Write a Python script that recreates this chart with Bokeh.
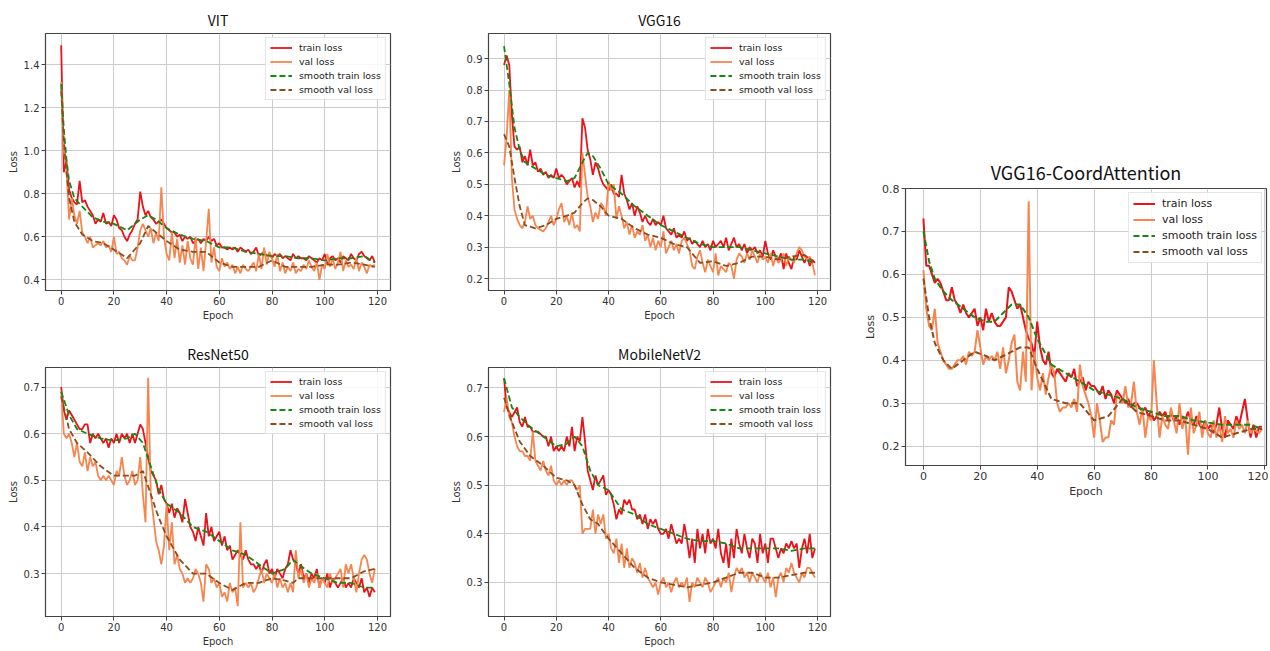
from bokeh.plotting import figure
from bokeh.models import Range1d, FixedTicker, Spacer, PrintfTickFormatter
from bokeh.layouts import row, column
from bokeh.embed import file_html
from bokeh.resources import INLINE

# ---------------- data ----------------
x_ticks = [0, 20, 40, 60, 80, 100, 120]

vit_train = [1.49,0.90,0.95,0.82,0.78,0.76,0.75,0.86,0.76,0.77,
             0.74,0.72,0.70,0.66,0.68,0.67,0.71,0.66,0.67,0.65,
             0.70,0.68,0.64,0.63,0.60,0.58,0.61,0.63,0.66,0.68,
             0.81,0.74,0.70,0.72,0.69,0.68,0.66,0.67,0.68,0.66,
             0.64,0.63,0.62,0.62,0.60,0.61,0.58,0.60,0.59,0.60,
             0.57,0.58,0.59,0.57,0.59,0.58,0.60,0.58,0.59,0.56,
             0.57,0.55,0.55,0.54,0.55,0.54,0.55,0.53,0.55,0.54,
             0.53,0.54,0.52,0.53,0.55,0.51,0.52,0.53,0.51,0.52,
             0.50,0.52,0.51,0.52,0.50,0.51,0.50,0.49,0.52,0.50,
             0.51,0.50,0.50,0.49,0.51,0.50,0.49,0.48,0.50,0.49,
             0.52,0.47,0.50,0.51,0.49,0.50,0.48,0.51,0.50,0.49,
             0.52,0.50,0.49,0.52,0.53,0.51,0.50,0.49,0.51,0.48]
vit_val = [1.32,1.00,0.92,0.68,0.78,0.70,0.66,0.72,0.62,0.60,
           0.57,0.60,0.55,0.56,0.57,0.56,0.58,0.55,0.56,0.53,
           0.60,0.52,0.53,0.50,0.49,0.47,0.51,0.49,0.49,0.55,
           0.63,0.66,0.63,0.60,0.64,0.57,0.62,0.58,0.83,0.60,
           0.52,0.49,0.62,0.50,0.59,0.48,0.56,0.47,0.58,0.50,
           0.47,0.60,0.45,0.55,0.44,0.58,0.73,0.48,0.55,0.46,
           0.44,0.50,0.46,0.48,0.45,0.47,0.43,0.46,0.43,0.47,
           0.45,0.44,0.46,0.48,0.44,0.52,0.45,0.55,0.47,0.53,
           0.50,0.46,0.52,0.44,0.48,0.43,0.46,0.44,0.48,0.43,
           0.45,0.44,0.47,0.45,0.49,0.46,0.44,0.48,0.40,0.47,
           0.45,0.52,0.46,0.50,0.45,0.48,0.53,0.44,0.49,0.46,
           0.47,0.45,0.50,0.44,0.48,0.46,0.43,0.47,0.46,0.47]
vit_s_ep = [0,1,2,3,5,8,12,16,20,25,30,33,36,40,45,50,55,60,65,70,75,80,85,90,95,100,105,110,115,119]
vit_s_train = [1.31,1.10,0.96,0.86,0.78,0.74,0.69,0.67,0.66,0.63,0.68,0.70,0.68,0.64,0.61,
               0.59,0.58,0.55,0.55,0.53,0.52,0.51,0.51,0.50,0.50,0.49,0.50,0.50,0.51,0.48]
vit_s_val = [1.28,1.05,0.90,0.78,0.67,0.61,0.58,0.57,0.54,0.50,0.57,0.65,0.62,0.58,0.54,
             0.53,0.53,0.48,0.46,0.46,0.46,0.49,0.46,0.46,0.46,0.47,0.47,0.48,0.47,0.46]

vgg_train = [0.88,0.91,0.88,0.72,0.62,0.61,0.62,0.57,0.59,0.56,
             0.61,0.56,0.57,0.54,0.55,0.53,0.54,0.52,0.53,0.52,
             0.55,0.52,0.53,0.52,0.50,0.51,0.52,0.49,0.51,0.49,
             0.71,0.68,0.61,0.58,0.53,0.57,0.55,0.52,0.50,0.49,
             0.48,0.50,0.47,0.47,0.46,0.53,0.47,0.45,0.42,0.44,
             0.40,0.43,0.41,0.38,0.40,0.38,0.37,0.39,0.37,0.38,
             0.37,0.40,0.36,0.35,0.34,0.36,0.33,0.34,0.33,0.35,
             0.32,0.33,0.31,0.32,0.31,0.30,0.32,0.30,0.31,0.29,
             0.32,0.30,0.31,0.32,0.30,0.33,0.29,0.31,0.33,0.30,
             0.31,0.29,0.31,0.28,0.30,0.29,0.30,0.28,0.29,0.27,
             0.32,0.28,0.26,0.29,0.27,0.26,0.28,0.23,0.28,0.25,
             0.23,0.27,0.26,0.29,0.27,0.25,0.27,0.24,0.26,0.25]
vgg_val = [0.56,0.65,0.80,0.52,0.42,0.39,0.37,0.36,0.38,0.43,
           0.39,0.40,0.37,0.36,0.355,0.35,0.36,0.38,0.40,0.37,
           0.39,0.42,0.44,0.38,0.40,0.37,0.41,0.36,0.37,0.35,
           0.60,0.53,0.46,0.43,0.38,0.41,0.39,0.44,0.43,0.40,
           0.51,0.48,0.50,0.39,0.43,0.40,0.36,0.38,0.34,0.37,
           0.33,0.35,0.34,0.37,0.32,0.34,0.30,0.33,0.29,0.32,
           0.30,0.35,0.28,0.30,0.32,0.29,0.31,0.28,0.32,0.33,
           0.31,0.29,0.24,0.23,0.27,0.29,0.25,0.22,0.26,0.24,
           0.22,0.28,0.21,0.24,0.23,0.22,0.25,0.24,0.20,0.26,
           0.28,0.27,0.25,0.28,0.26,0.29,0.27,0.25,0.28,0.26,
           0.27,0.25,0.28,0.24,0.27,0.25,0.26,0.28,0.24,0.27,
           0.26,0.25,0.28,0.30,0.29,0.27,0.26,0.27,0.25,0.21]
vgg_s_ep = [0,2,4,6,8,12,16,20,24,27,30,32,34,37,40,45,50,55,60,65,70,75,80,85,90,95,100,105,110,115,119]
vgg_s_train = [0.94,0.82,0.68,0.61,0.57,0.55,0.53,0.52,0.51,0.52,0.57,0.60,0.59,0.55,0.50,0.47,
               0.43,0.40,0.37,0.35,0.33,0.31,0.30,0.30,0.30,0.29,0.28,0.27,0.26,0.26,0.25]
vgg_s_val = [0.66,0.62,0.52,0.43,0.37,0.36,0.37,0.39,0.40,0.41,0.44,0.455,0.45,0.43,0.40,0.39,
             0.36,0.34,0.33,0.31,0.30,0.25,0.255,0.24,0.25,0.27,0.27,0.26,0.27,0.275,0.25]

res_train = [0.70,0.65,0.63,0.65,0.64,0.63,0.62,0.61,0.61,0.62,
             0.62,0.58,0.60,0.59,0.60,0.59,0.58,0.59,0.57,0.59,
             0.58,0.60,0.58,0.60,0.59,0.60,0.58,0.60,0.58,0.60,
             0.62,0.61,0.58,0.55,0.52,0.51,0.50,0.47,0.49,0.46,
             0.45,0.43,0.45,0.42,0.44,0.43,0.41,0.46,0.43,0.40,
             0.39,0.37,0.40,0.38,0.36,0.43,0.38,0.40,0.37,0.38,
             0.39,0.36,0.38,0.35,0.36,0.33,0.34,0.35,0.34,0.33,
             0.35,0.33,0.32,0.32,0.31,0.32,0.30,0.32,0.33,0.30,
             0.31,0.29,0.31,0.30,0.29,0.31,0.32,0.35,0.33,0.32,
             0.30,0.32,0.29,0.30,0.28,0.30,0.29,0.31,0.27,0.29,
             0.28,0.30,0.27,0.29,0.28,0.27,0.28,0.29,0.27,0.28,
             0.27,0.29,0.28,0.27,0.29,0.26,0.27,0.25,0.27,0.26]
res_val = [0.69,0.60,0.59,0.60,0.58,0.55,0.58,0.54,0.53,0.56,
           0.52,0.55,0.53,0.54,0.51,0.50,0.51,0.50,0.51,0.50,
           0.49,0.52,0.51,0.55,0.51,0.49,0.50,0.52,0.49,0.50,
           0.55,0.47,0.41,0.72,0.47,0.42,0.37,0.35,0.32,0.36,
           0.45,0.35,0.41,0.32,0.34,0.31,0.30,0.28,0.29,0.28,
           0.29,0.31,0.30,0.28,0.24,0.32,0.31,0.28,0.29,0.27,
           0.28,0.25,0.26,0.24,0.28,0.26,0.27,0.23,0.41,0.27,
           0.28,0.27,0.28,0.26,0.27,0.29,0.31,0.28,0.30,0.29,
           0.28,0.30,0.27,0.29,0.27,0.28,0.26,0.28,0.26,0.35,
           0.29,0.31,0.28,0.30,0.27,0.29,0.28,0.30,0.27,0.29,
           0.28,0.27,0.30,0.28,0.29,0.30,0.31,0.27,0.32,0.30,
           0.32,0.29,0.26,0.30,0.33,0.34,0.33,0.30,0.28,0.31]
res_s_ep = [0,3,6,10,15,20,25,28,31,34,37,40,45,50,55,60,65,70,75,80,85,88,90,95,100,105,110,115,119]
res_s_train = [0.69,0.64,0.61,0.60,0.59,0.585,0.59,0.60,0.58,0.53,0.48,0.45,0.43,0.40,0.39,
               0.37,0.35,0.34,0.32,0.30,0.31,0.33,0.32,0.30,0.29,0.28,0.28,0.27,0.27]
res_s_val = [0.68,0.61,0.58,0.56,0.53,0.51,0.51,0.51,0.52,0.47,0.42,0.38,0.33,0.30,0.30,
             0.28,0.265,0.28,0.28,0.29,0.285,0.28,0.29,0.29,0.29,0.29,0.29,0.305,0.31]

mob_train = [0.72,0.66,0.65,0.64,0.65,0.66,0.63,0.62,0.64,0.62,
             0.62,0.61,0.61,0.61,0.605,0.60,0.60,0.58,0.60,0.57,
             0.58,0.57,0.58,0.57,0.60,0.58,0.62,0.57,0.60,0.59,
             0.64,0.59,0.53,0.51,0.49,0.52,0.50,0.51,0.52,0.48,
             0.49,0.48,0.46,0.43,0.45,0.44,0.47,0.46,0.47,0.45,
             0.45,0.43,0.44,0.42,0.44,0.41,0.43,0.42,0.43,0.41,
             0.40,0.40,0.41,0.39,0.42,0.40,0.38,0.39,0.38,0.42,
             0.39,0.35,0.39,0.34,0.41,0.37,0.40,0.36,0.41,0.38,
             0.39,0.37,0.41,0.36,0.34,0.38,0.33,0.39,0.35,0.41,
             0.38,0.36,0.40,0.37,0.35,0.39,0.38,0.34,0.40,0.36,
             0.38,0.34,0.39,0.39,0.37,0.35,0.37,0.36,0.38,0.37,
             0.385,0.37,0.38,0.33,0.37,0.39,0.36,0.40,0.35,0.37]
mob_val = [0.65,0.68,0.64,0.63,0.60,0.58,0.57,0.57,0.56,0.56,
           0.55,0.61,0.55,0.54,0.53,0.55,0.53,0.52,0.54,0.51,
           0.50,0.51,0.50,0.51,0.50,0.51,0.51,0.50,0.49,0.50,
           0.40,0.41,0.41,0.41,0.45,0.40,0.44,0.42,0.44,0.39,
           0.40,0.37,0.36,0.39,0.34,0.38,0.33,0.37,0.33,0.35,
           0.34,0.32,0.34,0.31,0.33,0.31,0.30,0.29,0.30,0.275,
           0.30,0.31,0.29,0.30,0.28,0.30,0.31,0.29,0.30,0.29,
           0.31,0.26,0.30,0.29,0.31,0.30,0.29,0.31,0.30,0.28,
           0.29,0.30,0.31,0.29,0.31,0.30,0.32,0.28,0.31,0.33,
           0.32,0.33,0.31,0.32,0.30,0.32,0.31,0.30,0.32,0.31,
           0.30,0.32,0.29,0.31,0.27,0.31,0.32,0.30,0.33,0.32,
           0.34,0.32,0.31,0.30,0.32,0.31,0.33,0.33,0.32,0.31]
mob_s_ep = [0,3,6,10,15,20,24,27,30,33,36,40,45,50,55,60,65,70,75,80,85,90,95,100,105,110,115,119]
mob_s_train = [0.72,0.66,0.64,0.62,0.60,0.58,0.585,0.60,0.58,0.53,0.50,0.49,0.45,0.44,
               0.42,0.41,0.40,0.39,0.385,0.385,0.38,0.37,0.37,0.37,0.37,0.365,0.37,0.37]
mob_s_val = [0.68,0.63,0.59,0.56,0.54,0.515,0.51,0.50,0.46,0.43,0.42,0.39,0.36,0.33,
             0.31,0.30,0.295,0.29,0.295,0.30,0.31,0.32,0.32,0.31,0.31,0.315,0.32,0.32]

ca_train = [0.73,0.62,0.62,0.60,0.58,0.59,0.58,0.56,0.54,0.54,
            0.57,0.54,0.53,0.51,0.53,0.51,0.50,0.51,0.52,0.48,
            0.50,0.47,0.52,0.49,0.51,0.49,0.48,0.48,0.49,0.50,
            0.57,0.56,0.54,0.52,0.53,0.50,0.47,0.45,0.44,0.41,
            0.49,0.43,0.40,0.39,0.42,0.37,0.36,0.38,0.37,0.36,
            0.35,0.37,0.36,0.38,0.34,0.35,0.36,0.33,0.35,0.34,
            0.34,0.33,0.32,0.34,0.31,0.33,0.32,0.30,0.33,0.32,
            0.31,0.30,0.31,0.29,0.30,0.30,0.29,0.28,0.29,0.27,
            0.28,0.26,0.27,0.28,0.27,0.28,0.26,0.28,0.26,0.27,
            0.25,0.27,0.26,0.28,0.26,0.25,0.27,0.25,0.24,0.26,
            0.24,0.25,0.23,0.25,0.29,0.24,0.22,0.26,0.25,0.24,
            0.27,0.25,0.28,0.31,0.26,0.22,0.25,0.22,0.245,0.245]
ca_val = [0.61,0.52,0.48,0.47,0.52,0.44,0.42,0.40,0.39,0.38,
          0.38,0.39,0.40,0.40,0.41,0.39,0.42,0.41,0.42,0.47,
          0.43,0.39,0.41,0.40,0.41,0.40,0.42,0.38,0.43,0.37,
          0.40,0.44,0.46,0.35,0.33,0.42,0.35,0.77,0.33,0.42,
          0.36,0.33,0.37,0.32,0.36,0.39,0.37,0.30,0.28,0.29,
          0.29,0.30,0.29,0.31,0.28,0.39,0.34,0.32,0.30,0.27,
          0.22,0.30,0.26,0.21,0.22,0.22,0.26,0.25,0.32,0.31,
          0.30,0.34,0.29,0.30,0.35,0.28,0.25,0.29,0.22,0.27,
          0.26,0.40,0.30,0.22,0.27,0.25,0.24,0.29,0.26,0.23,
          0.30,0.24,0.27,0.18,0.29,0.23,0.25,0.28,0.22,0.26,
          0.23,0.22,0.26,0.22,0.25,0.21,0.27,0.23,0.24,0.22,
          0.26,0.24,0.25,0.23,0.26,0.23,0.24,0.235,0.23,0.24]
ca_s_ep = [0,2,4,7,10,14,18,22,25,28,31,34,37,40,45,50,55,60,65,70,75,80,85,90,95,100,105,110,115,119]
ca_s_train = [0.70,0.63,0.59,0.56,0.54,0.52,0.50,0.49,0.49,0.51,0.53,0.53,0.50,0.45,0.39,
              0.37,0.35,0.33,0.32,0.31,0.29,0.28,0.27,0.27,0.26,0.255,0.25,0.25,0.25,0.24]
ca_s_val = [0.59,0.50,0.44,0.40,0.38,0.40,0.42,0.41,0.40,0.41,0.42,0.43,0.43,0.38,0.31,
            0.30,0.30,0.26,0.27,0.31,0.28,0.27,0.26,0.26,0.25,0.24,0.22,0.23,0.24,0.24]

# ---------------- styling ----------------
C_TRAIN = "#ec1219"
C_VAL = "#f7854f"
C_STRAIN = "#128a12"
C_SVAL = "#8b4c1e"
TICK_FONT = "DejaVu Sans"
TITLE_FONT = "Noto Sans CJK SC"


def make(title, train, val, s_ep, s_tr, s_val, xr, yr, yticks, w, h,
         bl, br, bt, bb, tsize="14px", fsize="10px", lfsize="9.5px", lw=1.8,
         tstand=7, lrow=11):
    p = figure(width=w, height=h, x_range=Range1d(*xr), y_range=Range1d(*yr),
               output_backend="svg", toolbar_location=None,
               min_border_left=bl, min_border_right=br,
               min_border_top=bt, min_border_bottom=bb)
    p.title.text = title
    p.title.align = "center"
    p.title.text_font = TITLE_FONT
    p.title.text_font_size = tsize
    p.title.text_font_style = "normal"
    p.title.text_color = "#111111"
    p.title.standoff = tstand

    p.line(list(range(len(train))), train, color=C_TRAIN, line_width=lw,
           legend_label="train loss")
    p.line(list(range(len(val))), val, color=C_VAL, line_width=lw,
           legend_label="val loss")
    p.line(s_ep, s_tr, color=C_STRAIN, line_width=lw, line_dash="6 3",
           legend_label="smooth train loss")
    p.line(s_ep, s_val, color=C_SVAL, line_width=lw, line_dash="6 3",
           legend_label="smooth val loss")

    p.xaxis.ticker = FixedTicker(ticks=x_ticks)
    p.yaxis.ticker = FixedTicker(ticks=yticks)
    p.yaxis.formatter = PrintfTickFormatter(format="%.1f")
    p.xaxis.axis_label = "Epoch"
    p.yaxis.axis_label = "Loss"
    for ax in (p.xaxis, p.yaxis):
        ax.axis_label_text_font = TICK_FONT
        ax.axis_label_text_font_size = fsize
        ax.axis_label_text_font_style = "normal"
        ax.axis_label_text_color = "#333333"
        ax.axis_label_standoff = 2
        ax.major_label_text_font = TICK_FONT
        ax.major_label_text_font_size = fsize
        ax.major_label_text_color = "#333333"
        ax.major_label_standoff = 2
        ax.major_tick_in = 0
        ax.major_tick_out = 4
        ax.major_tick_line_color = "#444444"
        ax.minor_tick_line_color = None
        ax.axis_line_color = "#444444"
    p.grid.grid_line_color = "#cccccc"
    p.grid.grid_line_width = 1
    p.outline_line_color = "#444444"
    p.outline_line_width = 1.2

    p.legend.location = "top_right"
    p.legend.label_text_font = TICK_FONT
    p.legend.label_text_font_size = lfsize
    p.legend.label_text_color = "#222222"
    p.legend.label_height = lrow
    p.legend.glyph_height = lrow
    p.legend.glyph_width = 22
    p.legend.label_standoff = 7
    p.legend.spacing = 3
    p.legend.padding = 4
    p.legend.margin = 4
    p.legend.border_line_color = "#cccccc"
    p.legend.background_fill_alpha = 0.85
    return p


XR = (-5.95, 124.95)
p_vit = make("VIT", vit_train, vit_val, vit_s_ep, vit_s_train, vit_s_val, XR,
             (0.35, 1.545), [0.4, 0.6, 0.8, 1.0, 1.2, 1.4], 440, 335, 45, 50, 33, 45)
p_vgg = make("VGG16", vgg_train, vgg_val, vgg_s_ep, vgg_s_train, vgg_s_val, XR,
             (0.162, 0.98), [0.2, 0.3, 0.4, 0.5, 0.6, 0.7, 0.8, 0.9], 410, 335, 48, 20, 33, 45)
p_res = make("ResNet50", res_train, res_val, res_s_ep, res_s_train, res_s_val, XR,
             (0.208, 0.742), [0.3, 0.4, 0.5, 0.6, 0.7], 440, 314, 45, 50, 32, 28)
p_mob = make("MobileNetV2", mob_train, mob_val, mob_s_ep, mob_s_train, mob_s_val, XR,
             (0.23, 0.742), [0.3, 0.4, 0.5, 0.6, 0.7], 410, 314, 48, 20, 32, 28)
p_ca = make("VGG16-CoordAttention", ca_train, ca_val, ca_s_ep, ca_s_train, ca_s_val, (-6.3, 120.6),
            (0.155, 0.8), [0.2, 0.3, 0.4, 0.5, 0.6, 0.7, 0.8], 418, 350, 55, 2, 38, 35,
            tsize="18px", fsize="11px", lfsize="11px", lw=2.0, tstand=8, lrow=13)

left = column(row(p_vit, p_vgg), row(p_res, p_mob))
right = column(Spacer(width=418, height=150), p_ca)
layout = row(left, right)

open("out.html", "w").write(file_html(layout, INLINE))
